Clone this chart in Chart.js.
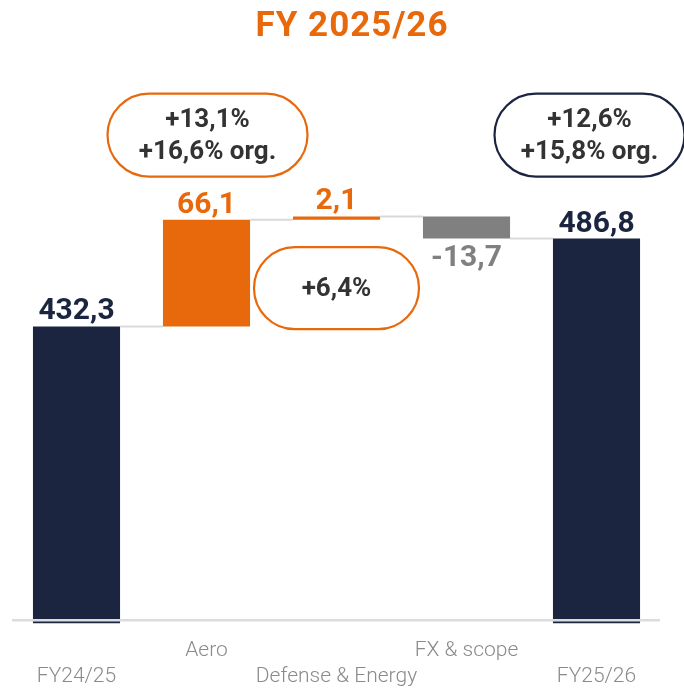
<!DOCTYPE html>
<html>
<head>
<meta charset="utf-8">
<script src="https://cdn.jsdelivr.net/npm/chart.js@4/dist/chart.umd.min.js"></script>
<style>
  html, body { margin: 0; padding: 0; background: #ffffff; }
  #wrap { width: 684px; height: 689px; position: relative; }
</style>
</head>
<body>
<div id="wrap"><canvas id="c"></canvas></div>
<script>
// ---- data ----
const categories = ['FY24/25', 'Aero', 'Defense & Energy', 'FX & scope', 'FY25/26'];
const startValue = 432.3;
const deltas = [66.1, 2.1, -13.7];
const endValue = 486.8;
const valueLabels = ['432,3', '66,1', '2,1', '-13,7', '486,8'];
const calloutAero = ['+13,1%', '+16,6% org.'];
const calloutDefense = ['+6,4%'];
const calloutTotal = ['+12,6%', '+15,8% org.'];
const titleText = 'FY 2025/26';

// ---- styling ----
const NAVY = '#1b2540';
const ORANGE = '#e8690c';
const GREY = '#808080';
const TEXT_DARK = '#333333';
const Y_MIN = 248;
const Y_MAX = 580;

// build floating bars from the arrays
const ranges = [];
const levels = [];
ranges.push([Y_MIN, startValue]);
levels.push(startValue);
let running = startValue;
deltas.forEach(d => {
  ranges.push([running, running + d]);
  running = running + d;
  levels.push(running);
});
ranges.push([Y_MIN, endValue]);
const barColors = [NAVY].concat(deltas.map(d => d >= 0 ? ORANGE : GREY)).concat([NAVY]);
const labelColors = [NAVY].concat(deltas.map(d => d >= 0 ? ORANGE : GREY)).concat([NAVY]);

const overlay = {
  id: 'overlay',
  afterDatasetsDraw(chart) {
    const ctx = chart.ctx;
    const y = chart.scales.y;
    const meta = chart.getDatasetMeta(0);
    ctx.save();
    // title
    ctx.fillStyle = ORANGE;
    ctx.font = 'bold 35px Roboto';
    ctx.textAlign = 'center';
    ctx.textBaseline = 'alphabetic';
    try { ctx.letterSpacing = '1px'; } catch (e) {}
    ctx.fillText(titleText, 352, 36);
    try { ctx.letterSpacing = '0px'; } catch (e) {}

    // connectors
    ctx.strokeStyle = '#d9d9d9';
    ctx.lineWidth = 2;
    for (let i = 0; i < meta.data.length - 1; i++) {
      const a = meta.data[i], b = meta.data[i + 1];
      const py = y.getPixelForValue(levels[i]);
      ctx.beginPath();
      ctx.moveTo(a.x + a.width / 2, py);
      ctx.lineTo(b.x - b.width / 2, py);
      ctx.stroke();
    }
    // base axis line
    const by = y.getPixelForValue(250);
    ctx.strokeStyle = '#dcdcdc';
    ctx.lineWidth = 2.5;
    ctx.beginPath();
    ctx.moveTo(chart.chartArea.left + 0.5, by);
    ctx.lineTo(chart.chartArea.right - 1.5, by);
    ctx.stroke();

    // value labels
    ctx.font = 'bold 30px Roboto';
    ctx.textAlign = 'center';
    meta.data.forEach((bar, i) => {
      const r = ranges[i];
      const top = Math.max(r[0], r[1]);
      const bot = Math.min(r[0], r[1]);
      const isNeg = (i > 0 && i < meta.data.length - 1 && deltas[i - 1] < 0);
      ctx.fillStyle = labelColors[i];
      if (isNeg) {
        ctx.textBaseline = 'top';
        ctx.fillText(valueLabels[i], bar.x, y.getPixelForValue(bot) + 5);
      } else {
        ctx.textBaseline = 'alphabetic';
        ctx.fillText(valueLabels[i], bar.x, y.getPixelForValue(top) - 7);
      }
    });

    // callouts
    function pill(cx, cy, w, h, color, lines) {
      const r = h / 2;
      ctx.beginPath();
      ctx.moveTo(cx - w / 2 + r, cy - h / 2);
      ctx.lineTo(cx + w / 2 - r, cy - h / 2);
      ctx.arc(cx + w / 2 - r, cy, r, -Math.PI / 2, Math.PI / 2);
      ctx.lineTo(cx - w / 2 + r, cy + h / 2);
      ctx.arc(cx - w / 2 + r, cy, r, Math.PI / 2, Math.PI * 1.5);
      ctx.closePath();
      ctx.fillStyle = '#ffffff';
      ctx.fill();
      ctx.strokeStyle = color;
      ctx.lineWidth = 2.2;
      ctx.stroke();
      ctx.fillStyle = TEXT_DARK;
      ctx.font = 'bold 26px Roboto';
      ctx.textAlign = 'center';
      ctx.textBaseline = 'middle';
      const lh = 32;
      const start = cy - (lines.length - 1) * lh / 2;
      lines.forEach((t, k) => ctx.fillText(t, cx, start + k * lh + 1));
    }
    const d = meta.data;
    pill(d[1].x + 1, y.getPixelForValue(551), 200, 83, ORANGE, calloutAero);
    pill(d[2].x, y.getPixelForValue(456), 165, 82, ORANGE, calloutDefense);
    pill(d[4].x - 7, y.getPixelForValue(551), 190, 83, NAVY, calloutTotal);
    ctx.restore();
  }
};

new Chart(document.getElementById('c'), {
  type: 'bar',
  data: {
    labels: categories,
    datasets: [{
      data: ranges,
      backgroundColor: barColors,
      borderWidth: 0,
      categoryPercentage: 1,
      barPercentage: 0.67
    }]
  },
  options: {
    responsive: true,
    maintainAspectRatio: false,
    animation: false,
    events: [],
    layout: { padding: { left: 11.5, right: 22.5, top: 88.3, bottom: -14.5 } },
    plugins: {
      legend: { display: false },
      tooltip: { enabled: false },
      title: { display: false }
    },
    scales: {
      y: {
        display: false,
        min: Y_MIN,
        max: Y_MAX
      },
      x: {
        grid: { display: false, drawTicks: false },
        border: { display: false },
        ticks: {
          autoSkip: false,
          maxRotation: 0,
          padding: 14,
          color: '#8a8a8a',
          font: { family: 'Roboto', weight: 300, size: 21, lineHeight: 1.238 },
          callback: (v, i) => (i % 2 === 0 ? ['', categories[i]] : [categories[i], ''])
        }
      }
    }
  },
  plugins: [overlay]
});
</script>
</body>
</html>
